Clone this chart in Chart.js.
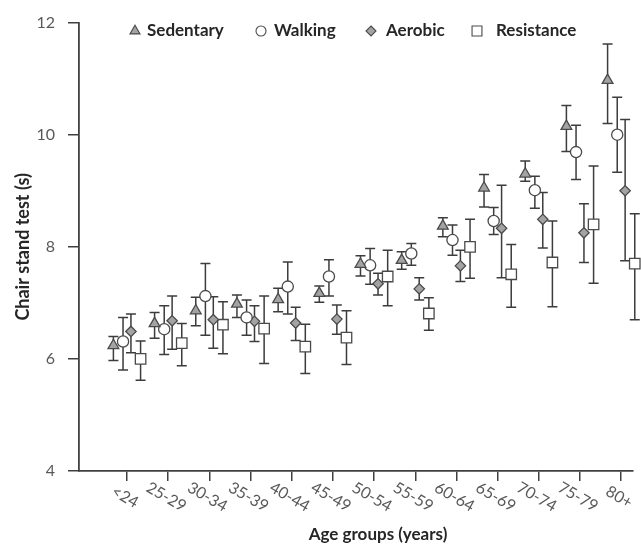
<!DOCTYPE html>
<html><head><meta charset="utf-8">
<script src="https://cdn.jsdelivr.net/npm/chart.js@4.4.1/dist/chart.umd.min.js"></script>
<style>html,body{margin:0;padding:0;background:#fff;}canvas{display:block;}</style>
</head><body>
<canvas id="c" width="641" height="544"></canvas>
<script>
const categories = ['<24','25-29','30-34','35-39','40-44','45-49','50-54','55-59','60-64','65-69','70-74','75-79','80+'];
const yTicks = [4, 6, 8, 10, 12];
const xTitle = 'Age groups (years)';
const yTitle = 'Chair stand test (s)';
const seriesNames = ['Sedentary', 'Walking', 'Aerobic', 'Resistance'];

const sedentaryMean = [6.24, 6.63, 6.86, 6.98, 7.06, 7.17, 7.69, 7.76, 8.37, 9.05, 9.30, 10.15, 10.97];
const sedentaryHigh = [6.40, 6.83, 7.10, 7.14, 7.26, 7.30, 7.84, 7.91, 8.52, 9.29, 9.53, 10.52, 11.62];
const sedentaryLow  = [5.97, 6.37, 6.59, 6.74, 6.84, 7.01, 7.48, 7.60, 8.18, 8.71, 9.17, 9.70, 10.20];

const walkingMean = [6.31, 6.53, 7.12, 6.74, 7.29, 7.47, 7.67, 7.88, 8.12, 8.46, 9.01, 9.69, 10.00];
const walkingHigh = [6.74, 6.95, 7.70, 7.05, 7.73, 7.77, 7.97, 8.06, 8.39, 8.70, 9.26, 10.17, 10.67];
const walkingLow  = [5.80, 6.08, 6.42, 6.42, 6.80, 7.12, 7.33, 7.67, 7.85, 8.22, 8.69, 9.20, 9.33];

const aerobicMean = [6.49, 6.68, 6.70, 6.67, 6.64, 6.71, 7.34, 7.25, 7.66, 8.33, 8.49, 8.25, 9.00];
const aerobicHigh = [6.80, 7.12, 7.11, 6.95, 6.92, 6.96, 7.53, 7.45, 7.94, 9.10, 8.97, 8.77, 10.27];
const aerobicLow  = [6.11, 6.17, 6.19, 6.31, 6.33, 6.44, 7.14, 7.05, 7.38, 7.45, 7.98, 7.72, 7.75];

const resistanceMean = [6.00, 6.28, 6.61, 6.54, 6.22, 6.38, 7.47, 6.81, 8.00, 7.51, 7.72, 8.40, 7.70];
const resistanceHigh = [6.32, 6.63, 7.02, 7.12, 6.62, 6.86, 7.94, 7.09, 8.49, 8.04, 8.46, 9.44, 8.59];
const resistanceLow  = [5.62, 5.88, 6.09, 5.92, 5.74, 5.90, 6.95, 6.51, 7.44, 6.92, 6.93, 7.35, 6.70];

const FONT = 'Lato, "Open Sans", "DejaVu Sans", sans-serif';
const AXIS = '#404040';

const seriesDefs = [
  {name: seriesNames[0], mean: sedentaryMean, low: sedentaryLow, high: sedentaryHigh, style: 'triangle', fill: '#a3a3a3', radius: 6.2, offset: -0.33, legendX: 135, legendGap: 12},
  {name: seriesNames[1], mean: walkingMean, low: walkingLow, high: walkingHigh, style: 'circle', fill: '#ffffff', radius: 5.6, offset: -0.096, legendX: 261, legendGap: 13},
  {name: seriesNames[2], mean: aerobicMean, low: aerobicLow, high: aerobicHigh, style: 'rectRot', fill: '#a3a3a3', radius: 5.2, offset: 0.096, legendX: 371, legendGap: 15},
  {name: seriesNames[3], mean: resistanceMean, low: resistanceLow, high: resistanceHigh, style: 'rect', fill: '#ffffff', radius: 7.4, offset: 0.33, legendX: 477, legendGap: 19}
];

const datasets = seriesDefs.map(s => ({
  label: s.name,
  data: s.mean.map((v, i) => ({x: i + s.offset, y: v, lo: s.low[i], hi: s.high[i]})),
  showLine: false,
  pointStyle: s.style,
  pointRadius: s.radius,
  pointHoverRadius: s.radius,
  pointBackgroundColor: s.fill,
  pointBorderColor: '#4a4a4a',
  pointBorderWidth: 1.3,
  xAxisID: 'x',
  yAxisID: 'y',
  clip: false
}));

const errorBars = {
  id: 'errorBars',
  beforeDatasetsDraw(chart) {
    const ctx = chart.ctx, xs = chart.scales.x, ys = chart.scales.y;
    ctx.save();
    ctx.strokeStyle = '#3c3c3c';
    ctx.lineWidth = 1.5;
    chart.data.datasets.forEach(ds => {
      ds.data.forEach(p => {
        const px = xs.getPixelForValue(p.x);
        const yl = ys.getPixelForValue(p.lo), yh = ys.getPixelForValue(p.hi);
        ctx.beginPath();
        ctx.moveTo(px, yh); ctx.lineTo(px, yl);
        ctx.moveTo(px - 5, yh); ctx.lineTo(px + 5, yh);
        ctx.moveTo(px - 5, yl); ctx.lineTo(px + 5, yl);
        ctx.stroke();
      });
    });
    ctx.restore();
  }
};

function marker(ctx, style, x, y, r) {
  ctx.beginPath();
  if (style === 'triangle') {
    ctx.moveTo(x, y - r);
    ctx.lineTo(x + r * 0.866, y + r * 0.5);
    ctx.lineTo(x - r * 0.866, y + r * 0.5);
    ctx.closePath();
  } else if (style === 'circle') {
    ctx.arc(x, y, r, 0, Math.PI * 2);
  } else if (style === 'rectRot') {
    ctx.moveTo(x, y - r); ctx.lineTo(x + r, y); ctx.lineTo(x, y + r); ctx.lineTo(x - r, y); ctx.closePath();
  } else {
    const h = r * Math.SQRT1_2;
    ctx.rect(x - h, y - h, 2 * h, 2 * h);
  }
  ctx.fill(); ctx.stroke();
}

const textPlugin = {
  id: 'textPlugin',
  afterDraw(chart) {
    const ctx = chart.ctx, xs = chart.scales.x;
    ctx.save();
    ctx.font = '16px ' + FONT;
    ctx.fillStyle = '#595959';
    ctx.textAlign = 'center';
    ctx.textBaseline = 'middle';
    xs.ticks.forEach((t, i) => {
      const px = xs.getPixelForValue(t.value);
      ctx.save();
      ctx.translate(px - 2, xs.top + 26);
      ctx.rotate(30 * Math.PI / 180);
      ctx.fillText(categories[i], 0, 0);
      ctx.restore();
    });
    ctx.font = 'bold 17px ' + FONT;
    ctx.fillStyle = '#262626';
    ctx.fillText(xTitle, 378, 535);
    ctx.textAlign = 'left';
    ctx.font = 'bold 17px ' + FONT;
    seriesDefs.forEach(s => {
      ctx.fillStyle = s.fill;
      ctx.strokeStyle = '#4a4a4a';
      ctx.lineWidth = 1.1;
      marker(ctx, s.style, s.legendX, 31, s.style === 'rect' ? 7 : (s.style === 'triangle' ? 5.8 : 5));
      ctx.fillStyle = '#262626';
      ctx.fillText(s.name, s.legendX + s.legendGap, 31);
    });
    ctx.restore();
  }
};

new Chart(document.getElementById('c'), {
  type: 'scatter',
  data: {datasets},
  plugins: [errorBars, textPlugin],
  options: {
    responsive: false,
    animation: false,
    events: [],
    layout: {padding: {top: 20, right: 0, left: 0, bottom: 0}},
    plugins: {legend: {display: false}, tooltip: {enabled: false}},
    scales: {
      x: {
        type: 'linear', position: 'bottom', min: -1.1654, max: 12.27,
        afterBuildTicks: s => { s.ticks = categories.map((c, i) => ({value: i})); },
        ticks: {display: false},
        grid: {drawOnChartArea: false, drawTicks: true, tickLength: 10, color: AXIS, lineWidth: 1.5},
        border: {display: true, color: AXIS, width: 1.8},
        afterFit: s => { s.height = 73; }
      },
      y: {
        type: 'linear', position: 'left', min: 4, max: 12,
        afterBuildTicks: s => { s.ticks = yTicks.map(v => ({value: v})); },
        ticks: {color: '#595959', font: {family: FONT, size: 16}, padding: 13},
        grid: {drawOnChartArea: false, drawTicks: true, tickLength: 11, color: AXIS, lineWidth: 1.5},
        border: {display: true, color: AXIS, width: 1.8},
        title: {display: true, text: yTitle, color: '#262626', font: {family: FONT, size: 18, weight: 'bold'}, padding: {top: 12, bottom: 4}},
        afterFit: s => { s.width = 79; }
      }
    }
  }
});
</script>
</body></html>
